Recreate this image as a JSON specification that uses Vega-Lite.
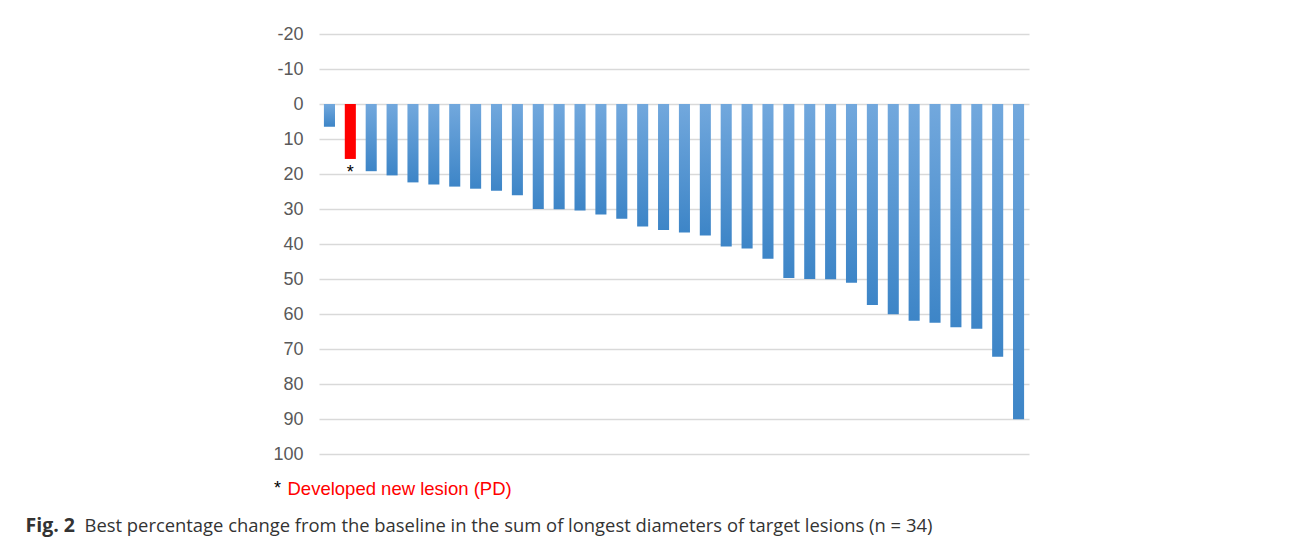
{
  "$schema": "https://vega.github.io/schema/vega-lite/v6.json",
  "autosize": "none",
  "width": 710,
  "height": 420,
  "padding": {"left": 319, "top": 34, "right": 263, "bottom": 86},
  "background": "white",
  "config": {"view": {"stroke": null}},
  "data": {
    "values": [
      {"patient": 1, "change": 6.5, "status": "SD"},
      {"patient": 2, "change": 15.7, "status": "PD"},
      {"patient": 3, "change": 19.2, "status": "SD"},
      {"patient": 4, "change": 20.4, "status": "SD"},
      {"patient": 5, "change": 22.4, "status": "SD"},
      {"patient": 6, "change": 23.0, "status": "SD"},
      {"patient": 7, "change": 23.6, "status": "SD"},
      {"patient": 8, "change": 24.2, "status": "SD"},
      {"patient": 9, "change": 24.8, "status": "SD"},
      {"patient": 10, "change": 26.1, "status": "SD"},
      {"patient": 11, "change": 30.0, "status": "PR"},
      {"patient": 12, "change": 30.1, "status": "PR"},
      {"patient": 13, "change": 30.4, "status": "PR"},
      {"patient": 14, "change": 31.6, "status": "PR"},
      {"patient": 15, "change": 32.8, "status": "PR"},
      {"patient": 16, "change": 35.0, "status": "PR"},
      {"patient": 17, "change": 36.0, "status": "PR"},
      {"patient": 18, "change": 36.7, "status": "PR"},
      {"patient": 19, "change": 37.6, "status": "PR"},
      {"patient": 20, "change": 40.7, "status": "PR"},
      {"patient": 21, "change": 41.3, "status": "PR"},
      {"patient": 22, "change": 44.2, "status": "PR"},
      {"patient": 23, "change": 49.7, "status": "PR"},
      {"patient": 24, "change": 50.0, "status": "PR"},
      {"patient": 25, "change": 50.1, "status": "PR"},
      {"patient": 26, "change": 51.1, "status": "PR"},
      {"patient": 27, "change": 57.4, "status": "PR"},
      {"patient": 28, "change": 60.1, "status": "PR"},
      {"patient": 29, "change": 61.9, "status": "PR"},
      {"patient": 30, "change": 62.5, "status": "PR"},
      {"patient": 31, "change": 63.8, "status": "PR"},
      {"patient": 32, "change": 64.2, "status": "PR"},
      {"patient": 33, "change": 72.2, "status": "PR"},
      {"patient": 34, "change": 90.1, "status": "PR"}
    ]
  },
  "encoding": {
    "x": {
      "field": "patient",
      "type": "ordinal",
      "sort": "ascending",
      "scale": {"paddingInner": 0.47, "paddingOuter": 0.235},
      "axis": {
        "labels": false,
        "ticks": false,
        "domain": false,
        "grid": false,
        "title": "Best percentage change from the baseline in the sum of longest diameters of target lesions (n = 34)",
        "titleFont": "Open Sans",
        "titleFontSize": 18.4,
        "titleFontWeight": "normal",
        "titleColor": "#333333",
        "titleAlign": "left",
        "titleAnchor": "start",
        "titleBaseline": "alphabetic",
        "titleX": -235,
        "titleY": 77
      }
    },
    "y": {
      "field": "change",
      "type": "quantitative",
      "scale": {"domain": [-20, 100], "reverse": true, "nice": false},
      "axis": {
        "values": [-20, -10, 0, 10, 20, 30, 40, 50, 60, 70, 80, 90, 100],
        "labelExpr": "'' + datum.value",
        "ticks": false,
        "domain": false,
        "labelFont": "Liberation Sans",
        "labelFontSize": 18,
        "labelColor": "#595959",
        "labelPadding": 16,
        "gridColor": "#d9d9d9",
        "gridWidth": 1.5,
        "title": "Fig. 2",
        "titleFont": "Open Sans",
        "titleFontSize": 19.5,
        "titleFontWeight": "bold",
        "titleColor": "#333333",
        "titleAngle": 0,
        "titleAlign": "left",
        "titleBaseline": "alphabetic",
        "titleX": -294,
        "titleY": 497
      }
    }
  },
  "layer": [
    {
      "transform": [{"filter": "datum.status !== 'PD'"}],
      "mark": {
        "type": "bar",
        "color": {
          "gradient": "linear",
          "x1": 0, "y1": 0, "x2": 0, "y2": 1,
          "stops": [
            {"offset": 0, "color": "#72a8dd"},
            {"offset": 1, "color": "#3d85c7"}
          ]
        }
      }
    },
    {
      "transform": [{"filter": "datum.status === 'PD'"}],
      "mark": {"type": "bar", "color": "#ff0000"}
    },
    {
      "transform": [{"filter": "datum.status === 'PD'"}],
      "mark": {
        "type": "text",
        "text": "*",
        "baseline": "top",
        "align": "center",
        "dy": 5,
        "font": "Liberation Sans",
        "fontSize": 18
      },
      "encoding": {
        "color": {
          "field": "status",
          "type": "nominal",
          "scale": {"range": ["#000000"]},
          "legend": {
            "orient": "none",
            "legendX": -45,
            "legendY": 446,
            "title": "*",
            "titleOrient": "left",
            "titleFont": "Liberation Sans",
            "titleFontSize": 18,
            "titleFontWeight": "normal",
            "titleColor": "#000000",
            "titlePadding": 0,
            "titleBaseline": "middle",
            "padding": 0,
            "symbolSize": 0,
            "symbolOpacity": 0,
            "symbolStrokeWidth": 0,
            "labelOffset": -13,
            "labelExpr": "'Developed new lesion (PD)'",
            "labelColor": "#ff0000",
            "labelFont": "Liberation Sans",
            "labelFontSize": 18.5,
            "labelLimit": 0
          }
        }
      }
    }
  ]
}
